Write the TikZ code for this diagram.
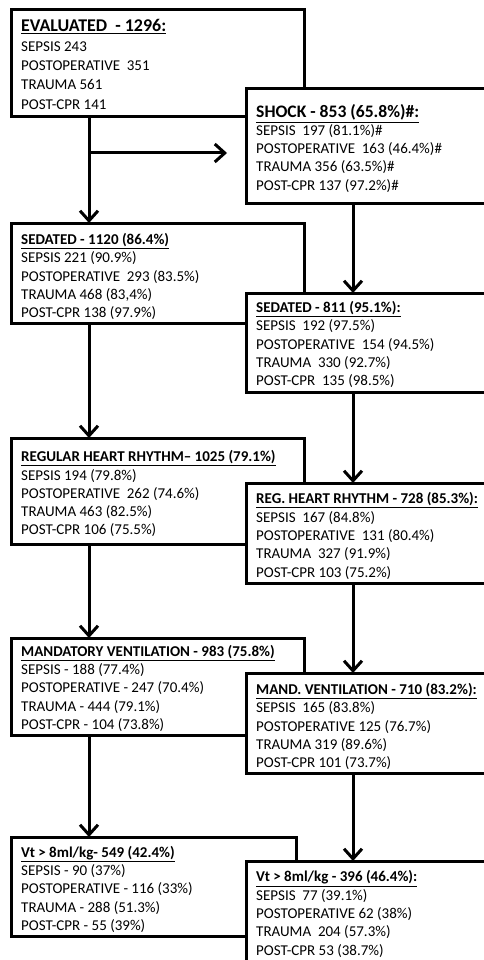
\documentclass[tikz,border=0pt]{standalone}
\usepackage{graphicx}
\usepackage{fontspec}
\setmainfont{Carlito}
\usetikzlibrary{arrows.meta}
\tikzset{
  box/.style={draw, line width=3pt, fill=white, inner sep=0pt, outer sep=0pt, anchor=north west},
  txt/.style={anchor=north west, align=left, inner sep=0pt, font=\fontsize{15pt}{18.3pt}\selectfont},
  arr/.style={line width=3pt, -{Straight Barb[length=10pt,width=18pt]}},
}
\newcommand\hd[1]{\rule{0pt}{11pt}\textbf{\underline{#1}}}
\newcommand\bighd[3]{\rule{0pt}{#2}\resizebox{#1}{!}{\textbf{\underline{#3}}}}
\begin{document}
\begin{tikzpicture}[x=1pt,y=-1pt]
\useasboundingbox (0,0) rectangle (484,960);
% left column
\node[box, minimum width=293pt, minimum height=107pt] (ev) at (11,10) {};
\node[box, minimum width=293pt, minimum height=100pt] (sedL) at (11,223) {};
\node[box, minimum width=293pt, minimum height=106pt] (regL) at (11,438) {};
\node[box, minimum width=293pt, minimum height=97pt] (manL) at (11,638) {};
\node[box, minimum width=285pt, minimum height=99pt] (vtL) at (11,837) {};
% right column
\node[box, minimum width=242pt, minimum height=114pt] (shock) at (246,89) {};
\node[box, minimum width=242pt, minimum height=99pt] (sedR) at (246,293) {};
\node[box, minimum width=242pt, minimum height=100pt] (regR) at (246,483) {};
\node[box, minimum width=242pt, minimum height=100pt] (manR) at (246,673) {};
\node[box, minimum width=242pt, minimum height=110pt] (vtR) at (246,861) {};
% texts
\node[txt, font=\fontsize{15pt}{19.2pt}\selectfont] (evt) at ([shift={(10pt,-9pt)}]ev.north west)
  {\bighd{145pt}{12pt}{EVALUATED~~- 1296:}\\[0.8pt]SEPSIS 243\\POSTOPERATIVE~ 351\\TRAUMA 561\\POST-CPR 141};
\node[txt] (shockt) at ([shift={(10pt,-15.4pt)}]shock.north west)
  {\bighd{163pt}{11pt}{SHOCK - 853 (65.8\%)\#:}\\[-0.8pt]SEPSIS~ 197 (81.1\%)\#\\POSTOPERATIVE~ 163 (46.4\%)\#\\TRAUMA 356 (63.5\%)\#\\POST-CPR 137 (97.2\%)\#};
\node[txt] (sedLt) at ([shift={(10pt,-10.3pt)}]sedL.north west)
  {\hd{SEDATED - 1120 (86.4\%)}\\SEPSIS 221 (90.9\%)\\POSTOPERATIVE~ 293 (83.5\%)\\TRAUMA 468 (83,4\%)\\POST-CPR 138 (97.9\%)};
\node[txt] (sedRt) at ([shift={(10pt,-8.3pt)}]sedR.north west)
  {\hd{SEDATED - 811 (95.1\%):}\\SEPSIS~ 192 (97.5\%)\\POSTOPERATIVE~ 154 (94.5\%)\\TRAUMA~ 330 (92.7\%)\\POST-CPR~ 135 (98.5\%)};
\node[txt] (regLt) at ([shift={(10pt,-12.4pt)}]regL.north west)
  {\hd{REGULAR HEART RHYTHM– 1025 (79.1\%)}\\SEPSIS 194 (79.8\%)\\POSTOPERATIVE~ 262 (74.6\%)\\TRAUMA 463 (82.5\%)\\POST-CPR 106 (75.5\%)};
\node[txt] (regRt) at ([shift={(10pt,-9.6pt)}]regR.north west)
  {\hd{REG. HEART RHYTHM - 728 (85.3\%):}\\SEPSIS~ 167 (84.8\%)\\POSTOPERATIVE~ 131 (80.4\%)\\TRAUMA~ 327 (91.9\%)\\POST-CPR 103 (75.2\%)};
\node[txt] (manLt) at ([shift={(10pt,-7pt)}]manL.north west)
  {\hd{MANDATORY VENTILATION - 983 (75.8\%)}\\SEPSIS - 188 (77.4\%)\\POSTOPERATIVE - 247 (70.4\%)\\TRAUMA - 444 (79.1\%)\\POST-CPR - 104 (73.8\%)};
\node[txt] (manRt) at ([shift={(10pt,-10.2pt)}]manR.north west)
  {\hd{MAND. VENTILATION - 710 (83.2\%):}\\SEPSIS~ 165 (83.8\%)\\POSTOPERATIVE 125 (76.7\%)\\TRAUMA 319 (89.6\%)\\POST-CPR 101 (73.7\%)};
\node[txt] (vtLt) at ([shift={(10pt,-8.8pt)}]vtL.north west)
  {\hd{Vt > 8ml/kg- 549 (42.4\%)}\\SEPSIS - 90 (37\%)\\POSTOPERATIVE - 116 (33\%)\\TRAUMA - 288 (51.3\%)\\POST-CPR - 55 (39\%)};
\node[txt] (vtRt) at ([shift={(10pt,-9.5pt)}]vtR.north west)
  {\hd{Vt > 8ml/kg - 396 (46.4\%):}\\SEPSIS~ 77 (39.1\%)\\POSTOPERATIVE 62 (38\%)\\TRAUMA~ 204 (57.3\%)\\POST-CPR 53 (38.7\%)};
% connectors
\draw[arr] ([xshift=78pt]ev.south west) -- ([xshift=78pt]sedL.north west);
\draw[arr] ([xshift=78pt]sedL.south west) -- ([xshift=78pt]regL.north west);
\draw[arr] ([xshift=78pt]regL.south west) -- ([xshift=78pt]manL.north west);
\draw[arr] ([xshift=78pt]manL.south west) -- ([xshift=78pt]vtL.north west);
\coordinate (hb) at (89,153);
\draw[arr, shorten >=19pt] (hb) -- (hb -| shock.west);
\draw[arr] ([xshift=107pt]shock.south west) -- ([xshift=107pt]sedR.north west);
\draw[arr] ([xshift=107pt]sedR.south west) -- ([xshift=107pt]regR.north west);
\draw[arr] ([xshift=107pt]regR.south west) -- ([xshift=107pt]manR.north west);
\draw[arr] ([xshift=107pt]manR.south west) -- ([xshift=107pt]vtR.north west);
\end{tikzpicture}
\end{document}
